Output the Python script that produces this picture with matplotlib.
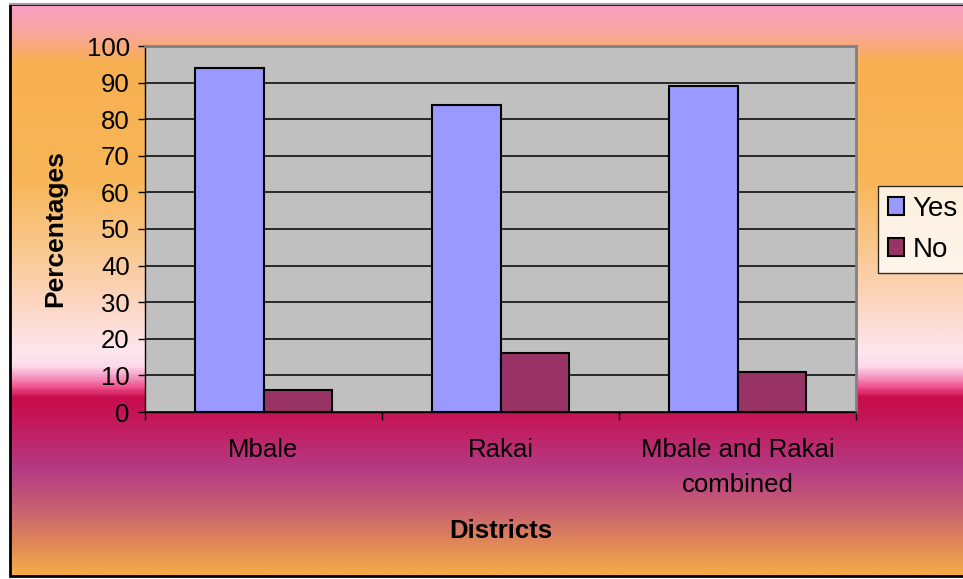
import numpy as np
import matplotlib
matplotlib.use('Agg')
import matplotlib.pyplot as plt
from matplotlib.colors import LinearSegmentedColormap
from matplotlib.patches import Rectangle

plt.rcParams['font.family'] = ['Liberation Sans', 'DejaVu Sans']

# ---- data ----
districts = ['Mbale', 'Rakai', 'Mbale and Rakai\ncombined']
yes_vals = [94, 84, 89]
no_vals = [6, 16, 11]
y_ticks = list(range(0, 101, 10))

W, H = 963, 579
fig = plt.figure(figsize=(W / 100, H / 100), dpi=100)
fig.patch.set_facecolor('white')

# ---- gradient background of the chart area ----
bg = fig.add_axes([0, 0, 1, 1])
bg.set_xlim(0, W)
bg.set_ylim(H, 0)
bg.axis('off')

top, bottom = 4, 576
stops = [(4, '#fa9ec4'), (30, '#f9a6a0'), (62, '#f7b050'), (180, '#f8b658'),
         (250, '#f9c890'), (310, '#fdd8c8'), (352, '#fde6ee'), (366, '#fbdcea'),
         (376, '#f7a0c8'), (388, '#ee4f8c'), (398, '#c80c4c'), (420, '#c41858'),
         (470, '#b53a85'), (510, '#c86070'), (545, '#e08858'), (576, '#f6ac48')]
pos = [(y - top) / (bottom - top) for y, _ in stops]
cmap = LinearSegmentedColormap.from_list('bg', list(zip(pos, [c for _, c in stops])))
grad = np.linspace(0, 1, 600).reshape(-1, 1)
bg.imshow(grad, cmap=cmap, aspect='auto', extent=(10, W + 5, bottom, top),
          interpolation='bilinear')
bg.add_patch(Rectangle((10, top), W, bottom - top, fill=False,
                       edgecolor='black', lw=2))
bg.plot([10, W], [top, top], color='#a0a0a0', lw=1.5)

# ---- main plot ----
ax = fig.add_axes([145 / W, 1 - 412 / H, (856 - 145) / W, (412 - 46) / H])
ax.set_facecolor('#c0c0c0')

x = np.arange(len(districts))
bw = 0.287
ax.bar(x - bw / 2, yes_vals, bw, color='#9999ff', edgecolor='black', lw=1.5,
       label='Yes', zorder=3)
ax.bar(x + bw / 2, no_vals, bw, color='#993366', edgecolor='black', lw=1.5,
       label='No', zorder=3)

ax.set_xlim(-0.5, len(districts) - 0.5)
ax.set_ylim(0, 100)
ax.set_yticks(y_ticks)
ax.yaxis.grid(True, color='black', lw=1.1, zorder=1)
ax.set_axisbelow(True)
ax.tick_params(axis='y', direction='out', length=5, width=1, labelsize=18.5, pad=6)

ax.set_xticks(x)
ax.set_xticklabels(districts, fontsize=18.5, linespacing=1.55)
ax.set_xticks(np.arange(len(districts) + 1) - 0.5, minor=True)
ax.tick_params(axis='x', which='major', length=0, pad=19)
ax.tick_params(axis='x', which='minor', direction='out', length=6, width=1)

for side in ('top', 'right'):
    ax.spines[side].set_color('#808080')
    ax.spines[side].set_linewidth(2)
for side in ('left', 'bottom'):
    ax.spines[side].set_color('black')
    ax.spines[side].set_linewidth(1)

ax.set_ylabel('Percentages', fontsize=19, fontweight='bold', labelpad=14)
ax.set_xlabel('Districts', fontsize=18.5, fontweight='bold', labelpad=16)

leg = fig.legend(loc='upper left', bbox_to_anchor=(878 / W, 1 - 186 / H),
                 fontsize=20, frameon=True, fancybox=False, edgecolor='black',
                 handlelength=0.6, handleheight=0.6, handletextpad=0.3,
                 labelspacing=0.55, borderpad=0.35, borderaxespad=0)
leg.get_frame().set_linewidth(1)

fig.savefig('out.png', dpi=100)
